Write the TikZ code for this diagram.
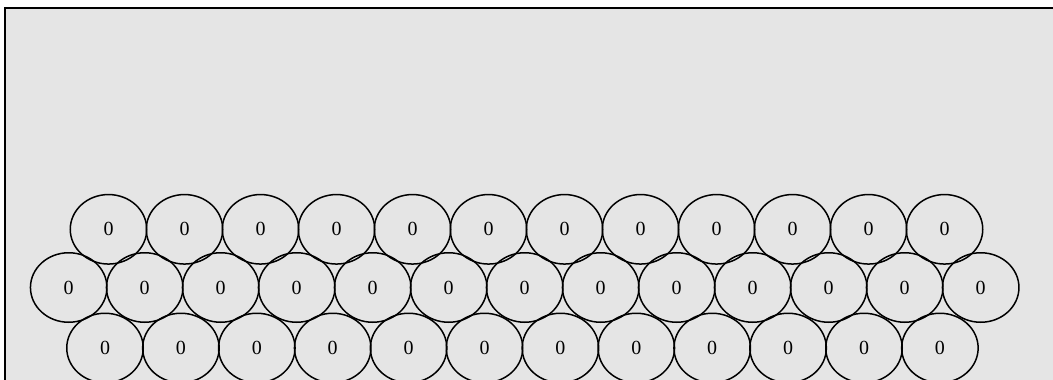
\documentclass[tikz,border=0pt]{standalone}
\usepackage{fontspec}
\setmainfont{Liberation Serif}
\usetikzlibrary{shapes.geometric}
\definecolor{panel}{HTML}{E5E5E5}
\tikzset{
  cell/.style={ellipse, draw=black, line width=1.5pt, minimum width=76.5pt, minimum height=69.5pt, inner sep=0pt, font=\fontsize{20}{24}\selectfont},
  frame/.style={fill=panel, draw=black, line width=2pt}
}
\begin{document}
\begin{tikzpicture}[x=1pt,y=-1pt]
\useasboundingbox (0,0) rectangle (1053,380);
\clip (0,0) rectangle (1053,380);
\fill[white] (0,0) rectangle (1053,380);
\filldraw[frame] (5,7.5) rectangle (1080,420);
\foreach \i in {0,...,11} {
  \node[cell] (t\i) at ({108.5+76*\i},229.3) {0};
}
\foreach \i in {0,...,12} {
  \node[cell] (m\i) at ({68.7+76*\i},287.5) {0};
}
\foreach \i in {0,...,11} {
  \node[cell] (b\i) at ({105+75.9*\i},348) {0};
}
\end{tikzpicture}
\end{document}
